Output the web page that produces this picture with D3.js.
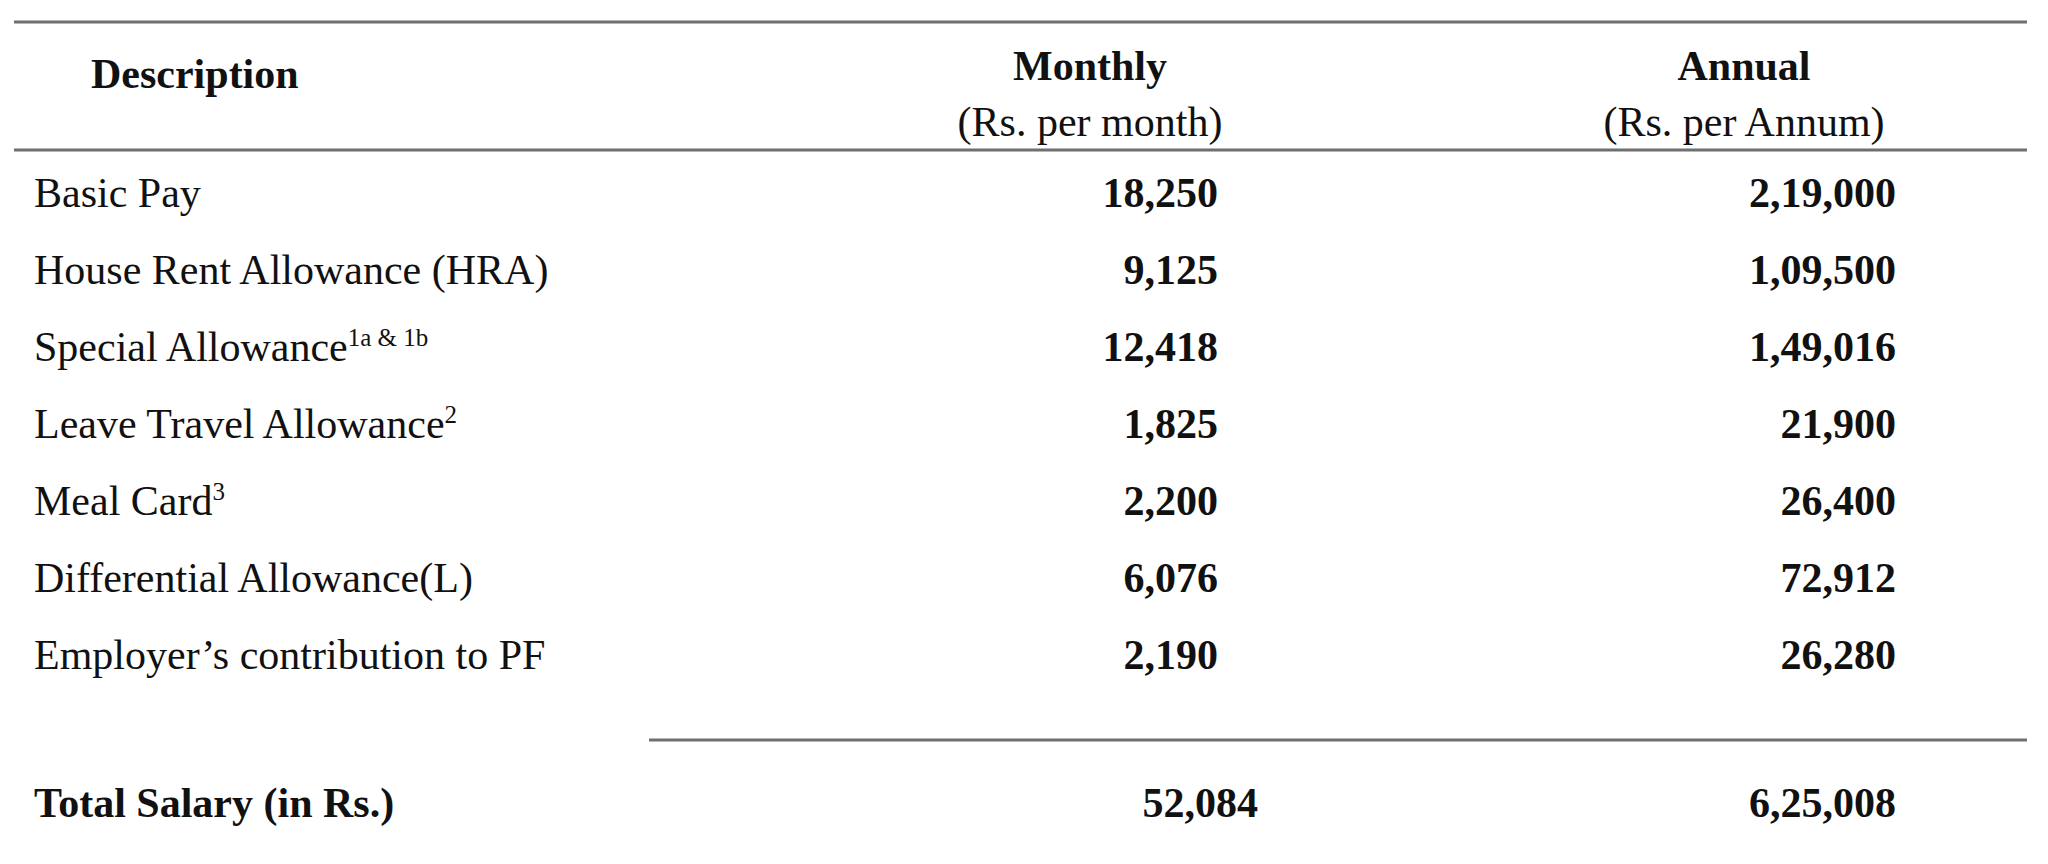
<!DOCTYPE html><html><head><meta charset="utf-8"><script src="https://cdn.jsdelivr.net/npm/d3@7"></script>
<style>body{margin:0;background:#fff}</style></head><body><svg id="c" width="2048" height="864"></svg>
<script>
const labels=["Basic Pay","House Rent Allowance (HRA)","Special Allowance","Leave Travel Allowance","Meal Card","Differential Allowance(L)","Employer’s contribution to PF"];
const sups=["","","1a & 1b","2","3","",""];
const monthly=["18,250","9,125","12,418","1,825","2,200","6,076","2,190"];
const annual=["2,19,000","1,09,500","1,49,016","21,900","26,400","72,912","26,280"];
const totalLabel="Total Salary (in Rs.)", totalMonthly="52,084", totalAnnual="6,25,008";
const svg=d3.select("#c");
const F="'Liberation Serif','Times New Roman',serif";
const y=d3.scaleBand().domain(d3.range(labels.length)).range([155,693]);
const line=(x1,x2,yy)=>svg.append("line").attr("x1",x1).attr("x2",x2).attr("y1",yy).attr("y2",yy).attr("stroke","#6f6f6f").attr("stroke-width",3);
line(14,2027,22);line(14,2027,150);line(649,2027,740);
const t=(x,yy,s,o={})=>svg.append("text").attr("x",x).attr("y",yy).attr("font-family",F).attr("font-size",o.size||42).attr("font-weight",o.bold?"bold":"normal").attr("text-anchor",o.anchor||"start").attr("fill","#111").text(s);
t(91,88,"Description",{bold:1});
t(1090,80,"Monthly",{bold:1,anchor:"middle"});t(1090,136,"(Rs. per month)",{anchor:"middle"});
t(1744,80,"Annual",{bold:1,anchor:"middle"});t(1744,136,"(Rs. per Annum)",{anchor:"middle"});
labels.forEach((l,i)=>{const yy=y(i)+y.bandwidth()/2+14;
 const tx=t(34,yy,l);
 if(sups[i]) tx.append("tspan").attr("font-size",25).attr("dy",-15).text(sups[i]);
 t(1218,yy,monthly[i],{bold:1,anchor:"end"});
 t(1896,yy,annual[i],{bold:1,anchor:"end"});
});
t(34,817,totalLabel,{bold:1});t(1258,817,totalMonthly,{bold:1,anchor:"end"});t(1896,817,totalAnnual,{bold:1,anchor:"end"});
</script></body></html>
